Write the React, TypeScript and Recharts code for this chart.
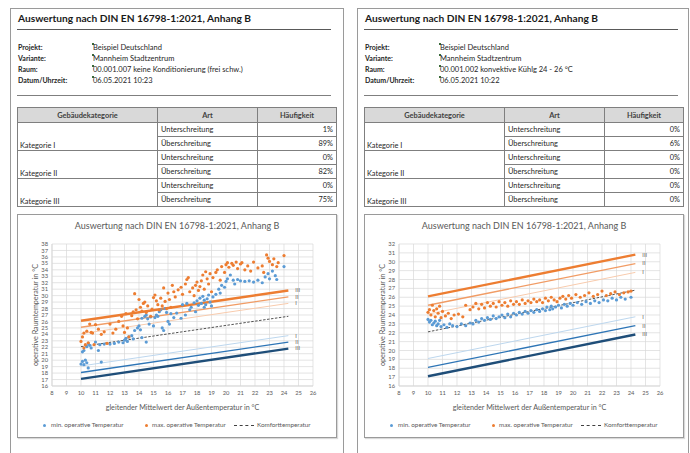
import React from "react";
import { ComposedChart, Scatter, Line, XAxis, YAxis, CartesianGrid } from "recharts";

type Pt = [number, number];

const reportTitle = "Auswertung nach DIN EN 16798-1:2021, Anhang B";
const chartTitle = "Auswertung nach DIN EN 16798-1:2021, Anhang B";
const infoLabels = ["Projekt:", "Variante:", "Raum:", "Datum/Uhrzeit:"];
const infoValuesA = ["Beispiel Deutschland", "Mannheim Stadtzentrum", "00.001.007 keine Konditionierung (frei schw.)", "06.05.2021 10:23"];
const infoValuesB = ["Beispiel Deutschland", "Mannheim Stadtzentrum", "00.001.002 konvektive Kühlg 24 - 26 °C", "06.05.2021 10:22"];
const tableHeaders = ["Gebäudekategorie", "Art", "Häufigkeit"];
const categoryNames = ["Kategorie I", "Kategorie II", "Kategorie III"];
const exceedKinds = ["Unterschreitung", "Überschreitung"];
const frequenciesA = ["1%", "89%", "0%", "82%", "0%", "75%"];
const frequenciesB = ["0%", "6%", "0%", "0%", "0%", "0%"];

const xTicks = [8, 9, 10, 11, 12, 13, 14, 15, 16, 17, 18, 19, 20, 21, 22, 23, 24, 25, 26];
const yTicksA = [16, 17, 18, 19, 20, 21, 22, 23, 24, 25, 26, 27, 28, 29, 30, 31, 32, 33, 34, 35, 36, 37, 38];
const yTicksB = [16, 17, 18, 19, 20, 21, 22, 23, 24, 25, 26, 27, 28, 29, 30, 31, 32];
const xTitle = "gleitender Mittelwert der Außentemperatur in °C";
const yTitle = "operative Raumtemperatur in °C";
const legendNames = ["min. operative Temperatur", "max. operative Temperatur", "Komforttemperatur"];

const limitX = [10, 24.3];
const upperIII = [26.1, 30.8];
const upperII = [25.1, 29.8];
const upperI = [24.1, 28.8];
const comfort = [22.1, 26.8];
const lowerI = [19.1, 23.8];
const lowerII = [18.1, 22.8];
const lowerIII = [17.1, 21.8];
const limitLabels = ["III", "II", "I", "I", "II", "III"];

const minA: Pt[] = [
  [10.0, 19.4], [10.1, 19.8], [10.2, 19.3], [10.3, 20.0], [10.5, 18.8], [10.4, 19.6], [10.1, 21.3], [10.2, 21.5],
  [10.4, 22.1], [10.6, 22.3], [10.7, 21.9], [10.5, 22.6], [11.0, 22.8], [11.2, 21.5], [11.4, 19.7], [11.3, 22.4],
  [11.6, 22.5], [12.0, 22.5], [12.3, 22.6], [12.6, 22.8], [12.9, 22.7], [13.0, 23.1], [13.1, 23.4], [13.2, 22.9],
  [13.3, 23.6], [13.5, 23.8], [13.6, 23.3], [13.7, 24.6], [13.9, 25.0], [14.0, 25.3], [14.1, 24.7], [14.2, 23.5],
  [14.5, 22.8], [14.2, 26.5], [14.4, 26.8], [14.5, 27.0], [14.6, 26.4], [14.8, 26.7], [14.7, 25.6], [15.0, 25.3],
  [15.1, 26.6], [15.2, 27.0], [15.3, 26.8], [15.4, 27.5], [15.5, 27.8], [15.6, 25.0], [15.7, 24.6], [15.8, 28.0],
  [15.9, 27.4], [16.0, 26.0], [16.1, 25.6], [16.2, 27.2], [16.4, 26.6], [16.6, 27.3], [16.9, 26.5], [17.0, 28.6],
  [17.2, 27.0], [17.3, 28.8], [17.5, 27.8], [17.6, 28.2], [17.8, 28.9], [17.9, 27.5], [18.0, 29.2], [18.1, 28.5],
  [18.2, 29.6], [18.3, 28.8], [18.4, 29.9], [18.5, 29.3], [18.5, 28.2], [18.6, 28.6], [18.7, 29.5], [18.8, 30.1],
  [18.9, 29.0], [19.0, 28.4], [19.1, 29.8], [19.3, 30.2], [19.5, 31.0], [19.6, 30.4], [19.7, 31.6], [19.9, 31.3],
  [20.0, 32.2], [20.1, 32.6], [20.3, 33.2], [20.5, 32.4], [20.6, 31.8], [20.8, 32.5], [21.0, 32.3], [21.3, 32.2],
  [21.6, 32.3], [21.9, 32.1], [22.2, 32.4], [22.5, 32.0], [22.7, 32.9], [22.9, 33.4], [23.0, 32.6], [23.2, 33.8],
  [23.4, 33.1], [23.5, 32.5], [24.0, 34.5],
];

const maxA: Pt[] = [
  [10.0, 22.9], [10.1, 23.6], [10.2, 24.2], [10.3, 22.4], [10.2, 21.9], [10.4, 24.5], [10.5, 22.7], [10.6, 25.6],
  [10.7, 24.3], [10.8, 24.2], [10.9, 22.4], [11.0, 25.5], [11.2, 24.8], [11.4, 24.0], [11.6, 24.4], [11.8, 22.6],
  [12.0, 25.6], [12.2, 24.2], [12.4, 24.8], [12.6, 26.0], [12.8, 26.8], [12.9, 25.3], [13.0, 24.3], [13.1, 27.2],
  [13.2, 25.0], [13.3, 23.6], [13.5, 26.9], [13.6, 27.5], [13.7, 30.3], [13.8, 27.8], [13.9, 26.4], [14.0, 29.4],
  [14.1, 28.2], [14.2, 27.6], [14.3, 28.8], [14.4, 29.0], [14.5, 27.4], [14.6, 28.4], [14.8, 26.8], [14.9, 27.9],
  [15.0, 29.7], [15.1, 30.1], [15.2, 29.2], [15.3, 28.6], [15.4, 27.8], [15.5, 29.6], [15.6, 28.4], [15.7, 31.2],
  [15.8, 29.1], [15.9, 28.0], [16.0, 30.4], [16.1, 29.4], [16.2, 28.2], [16.3, 31.6], [16.4, 30.6], [16.5, 29.8],
  [16.7, 30.9], [16.9, 31.3], [17.0, 30.2], [17.2, 31.8], [17.3, 32.5], [17.4, 32.8], [17.5, 30.6], [17.7, 31.2],
  [17.8, 30.0], [17.9, 31.6], [18.0, 32.1], [18.1, 30.8], [18.2, 31.4], [18.3, 32.3], [18.4, 33.2], [18.5, 31.0],
  [18.6, 33.7], [18.7, 32.6], [18.8, 31.8], [18.9, 33.4], [19.0, 30.6], [19.1, 32.8], [19.3, 33.6], [19.4, 34.0],
  [19.6, 32.4], [19.7, 34.5], [19.9, 33.6], [20.0, 34.8], [20.1, 35.1], [20.2, 34.4], [20.4, 35.0], [20.5, 34.7],
  [20.7, 35.2], [20.8, 34.2], [21.0, 34.9], [21.1, 35.1], [21.3, 34.0], [21.5, 34.6], [21.7, 33.8], [21.9, 35.2],
  [22.2, 34.3], [22.5, 34.6], [22.6, 33.6], [22.8, 36.3], [22.9, 35.8], [23.0, 35.3], [23.2, 34.8], [23.3, 35.7],
  [23.5, 34.5], [23.6, 35.1], [24.0, 36.2],
];

const minB: Pt[] = [
  [10.0, 23.5], [10.1, 23.2], [10.2, 23.4], [10.3, 22.9], [10.4, 23.1], [10.5, 23.3], [10.6, 22.8], [10.7, 23.0],
  [10.8, 23.4], [10.9, 22.7], [11.1, 22.9], [11.3, 22.6], [11.5, 23.0], [11.7, 22.8], [12.0, 22.7], [12.3, 23.0],
  [12.6, 22.8], [12.9, 23.1], [13.1, 23.0], [13.3, 23.4], [13.5, 23.2], [13.7, 23.6], [13.9, 23.4], [14.1, 23.7],
  [14.3, 23.5], [14.5, 23.9], [14.7, 23.6], [14.9, 23.8], [15.1, 24.0], [15.3, 23.7], [15.5, 24.1], [15.7, 23.8],
  [15.9, 24.2], [16.1, 24.0], [16.3, 24.3], [16.5, 24.1], [16.7, 24.4], [16.9, 24.2], [17.1, 24.5], [17.3, 24.3],
  [17.5, 24.6], [17.7, 24.4], [17.9, 24.7], [18.1, 24.5], [18.2, 24.9], [18.4, 24.6], [18.5, 25.0], [18.6, 24.7],
  [18.8, 24.9], [19.0, 25.1], [19.2, 24.8], [19.4, 25.2], [19.6, 25.0], [19.8, 25.3], [20.0, 25.1], [20.3, 25.4],
  [20.6, 25.2], [20.9, 25.5], [21.2, 25.3], [21.5, 25.6], [21.8, 25.4], [22.1, 25.7], [22.4, 25.6], [22.7, 25.9],
  [23.0, 25.7], [23.3, 26.0], [23.6, 25.8], [24.0, 26.0],
];

const maxB: Pt[] = [
  [10.0, 24.3], [10.1, 24.6], [10.2, 24.0], [10.3, 25.1], [10.4, 24.5], [10.5, 23.8], [10.6, 24.7], [10.7, 24.2],
  [10.8, 25.0], [10.9, 23.7], [11.0, 24.4], [11.2, 23.9], [11.4, 24.2], [11.6, 23.6], [11.8, 24.0], [12.1, 24.1],
  [12.4, 23.8], [12.6, 25.1], [12.9, 24.6], [13.1, 24.9], [13.3, 25.3], [13.5, 24.7], [13.7, 25.2], [13.9, 24.8],
  [14.1, 25.4], [14.3, 25.0], [14.5, 25.3], [14.7, 24.9], [14.9, 25.5], [15.1, 25.1], [15.3, 25.4], [15.5, 25.0],
  [15.7, 25.6], [15.9, 25.2], [16.1, 25.5], [16.3, 25.2], [16.5, 25.7], [16.7, 25.3], [16.9, 25.6], [17.1, 25.4],
  [17.3, 25.8], [17.5, 25.5], [17.7, 25.7], [17.9, 25.4], [18.1, 25.9], [18.3, 25.6], [18.5, 26.0], [18.7, 25.7],
  [18.9, 25.5], [19.1, 25.9], [19.3, 26.1], [19.5, 25.8], [19.7, 26.2], [19.9, 25.9], [20.2, 26.3], [20.5, 26.0],
  [20.8, 26.2], [21.1, 26.5], [21.4, 26.1], [21.7, 26.3], [22.0, 26.7], [22.3, 26.2], [22.6, 26.4], [22.9, 26.6],
  [23.2, 26.3], [23.5, 26.5], [23.8, 26.6], [24.0, 26.7],
];

const FONT = "Lato, 'Liberation Sans', Arial, sans-serif";
const BLUE = "#5B9BD5";
const ORANGE = "#ED7D31";
const TXT = "#595959";

const toXY = (pts: Pt[]) => pts.map(([x, y]) => ({ x, y }));
const lineData = (vals: number[]) => limitX.map((x, i) => ({ x, y: vals[i] }));

const limitLines = [
  { vals: upperIII, color: "#ED7D31", w: 2.4, label: limitLabels[0] },
  { vals: upperII, color: "#F19C65", w: 1.3, label: limitLabels[1] },
  { vals: upperI, color: "#F8CBAD", w: 1, label: limitLabels[2] },
  { vals: lowerI, color: "#BDD7EE", w: 1, label: limitLabels[3] },
  { vals: lowerII, color: "#2E75B6", w: 1.4, label: limitLabels[4] },
  { vals: lowerIII, color: "#1F4E79", w: 2.4, label: limitLabels[5] },
];

const endLabel = (text: string) => (props: any) => {
  if (props.index !== 1) return null;
  return (
    <text x={props.x + 7} y={props.y} dy="0.35em" fontSize={5.5} fill={TXT} fontFamily={FONT}>
      {text}
    </text>
  );
};

const dotShape = (color: string) => (props: any) => (
  <circle cx={props.cx} cy={props.cy} r={1.6} fill={color} />
);

function AdaptiveChart({ minPts, maxPts, yTicks }: { minPts: Pt[]; maxPts: Pt[]; yTicks: number[] }) {
  const tickStyle = { fontSize: 5.8, fill: TXT, fontFamily: FONT };
  return (
    <ComposedChart width={318} height={222} margin={{ top: 29, right: 23, bottom: 21, left: 0 }}>
      <CartesianGrid stroke="#d9d9d9" strokeWidth={0.7} />
      <XAxis
        type="number"
        dataKey="x"
        domain={[8, 26]}
        ticks={xTicks}
        interval={0}
        allowDataOverflow
        tickLine={false}
        tickSize={0}
        tickMargin={5}
        height={30}
        axisLine={{ stroke: "#d9d9d9" }}
        tick={tickStyle}
        label={{
          content: (p: any) => {
            const vb = p.viewBox || { x: 34, y: 171, width: 261, height: 30 };
            return (
              <text x={vb.x + vb.width / 2} y={vb.y + 21} dy="0.35em" textAnchor="middle" fontSize={7.2} fill={TXT} fontFamily={FONT}>
                {xTitle}
              </text>
            );
          },
        }}
      />
      <YAxis
        type="number"
        dataKey="y"
        domain={[yTicks[0], yTicks[yTicks.length - 1]]}
        ticks={yTicks}
        interval={0}
        allowDataOverflow
        width={34}
        tickLine={false}
        tickSize={0}
        tickMargin={4}
        axisLine={{ stroke: "#d9d9d9" }}
        tick={tickStyle}
        label={{
          content: (p: any) => {
            const vb = p.viewBox || { x: 0, y: 29, width: 34, height: 142 };
            const cx = vb.x + 17;
            const cy = vb.y + vb.height / 2;
            return (
              <text x={cx} y={cy} dy="0.35em" textAnchor="middle" fontSize={7.2} fill={TXT} fontFamily={FONT} transform={`rotate(-90 ${cx} ${cy})`}>
                {yTitle}
              </text>
            );
          },
        }}
      />
      {limitLines.map((l, i) => (
        <Line
          key={"l" + i}
          data={lineData(l.vals)}
          dataKey="y"
          stroke={l.color}
          strokeWidth={l.w}
          dot={false}
          isAnimationActive={false}
          label={endLabel(l.label)}
        />
      ))}
      <Line
        data={lineData(comfort)}
        dataKey="y"
        stroke="#404040"
        strokeWidth={0.9}
        strokeDasharray="2.5 1.5"
        dot={false}
        isAnimationActive={false}
      />
      <Scatter data={toXY(minPts)} fill={BLUE} shape={dotShape(BLUE)} isAnimationActive={false} />
      <Scatter data={toXY(maxPts)} fill={ORANGE} shape={dotShape(ORANGE)} isAnimationActive={false} />
    </ComposedChart>
  );
}

function ChartBox({ minPts, maxPts, yTicks }: { minPts: Pt[]; maxPts: Pt[]; yTicks: number[] }) {
  const legendText = { position: "absolute" as const, top: 206, fontSize: 6.3, lineHeight: "8px", color: TXT, whiteSpace: "nowrap" as const };
  return (
    <div
      style={{
        position: "absolute",
        left: 6,
        top: 205,
        width: 320,
        height: 224,
        border: "1px solid #9a9a9a",
        boxSizing: "border-box",
        boxShadow: "1px 1px 1px rgba(0,0,0,0.15)",
        background: "#fff",
      }}
    >
      <div style={{ position: "absolute", left: 0, top: 5, width: 318, textAlign: "center", fontSize: 9, lineHeight: "12px", color: TXT, whiteSpace: "nowrap" }}>
        {chartTitle}
      </div>
      <div style={{ position: "absolute", left: 0, top: 0 }}>
        <AdaptiveChart minPts={minPts} maxPts={maxPts} yTicks={yTicks} />
      </div>
      <div style={{ position: "absolute", left: 25, top: 208.5, width: 3, height: 3, borderRadius: 2, background: BLUE }} />
      <div style={{ ...legendText, left: 33 }}>{legendNames[0]}</div>
      <div style={{ position: "absolute", left: 127, top: 208.5, width: 3, height: 3, borderRadius: 2, background: ORANGE }} />
      <div style={{ ...legendText, left: 134 }}>{legendNames[1]}</div>
      <div style={{ position: "absolute", left: 216, top: 209.5, width: 20, height: 0, borderTop: "1px dashed #404040" }} />
      <div style={{ ...legendText, left: 239 }}>{legendNames[2]}</div>
    </div>
  );
}

function ReportPage({ left, width, info, freqs, minPts, maxPts, yTicks }: any) {
  const cell = { border: "1px solid #7f7f7f", padding: "0 3px", height: 13, overflow: "hidden", whiteSpace: "nowrap" as const };
  return (
    <div
      style={{
        position: "absolute",
        left,
        top: 8,
        width,
        height: 460,
        border: "1px solid #9a9a9a",
        boxSizing: "border-box",
        background: "#fff",
        fontFamily: FONT,
        color: "#262626",
      }}
    >
      <div style={{ position: "absolute", left: 7, top: 2, fontSize: 10.2, fontWeight: 700, lineHeight: "14px", whiteSpace: "nowrap", color: "#1a1a1a" }}>
        {reportTitle}
      </div>
      <div style={{ position: "absolute", left: 6, top: 20, width: 314, height: 0, borderTop: "1.5px solid #595959" }} />
      {infoLabels.map((lab, i) => (
        <React.Fragment key={lab}>
          <div style={{ position: "absolute", left: 7, top: 32.5 + i * 11, fontSize: 7, fontWeight: 700, lineHeight: "11px", whiteSpace: "nowrap" }}>{lab}</div>
          <div style={{ position: "absolute", left: 81, top: 34 + i * 11, width: 1.5, height: 1.5, background: "#3a6a3a" }} />
          <div style={{ position: "absolute", left: 82, top: 32.5 + i * 11, fontSize: 7.5, lineHeight: "11px", whiteSpace: "nowrap" }}>{info[i]}</div>
        </React.Fragment>
      ))}
      <div style={{ position: "absolute", left: 6, top: 86, width: 314, height: 0, borderTop: "1px solid #7f7f7f" }} />
      <table
        style={{
          position: "absolute",
          left: 6,
          top: 98,
          width: 319,
          borderCollapse: "collapse",
          tableLayout: "fixed",
          fontSize: 7.4,
          border: "1px solid #404040",
        }}
      >
        <colgroup>
          <col style={{ width: 140 }} />
          <col style={{ width: 100 }} />
          <col style={{ width: 79 }} />
        </colgroup>
        <thead>
          <tr style={{ background: "#d9d9d9" }}>
            {tableHeaders.map((h) => (
              <th key={h} style={{ ...cell, height: 14, textAlign: "center", fontWeight: 700, color: "#404040" }}>{h}</th>
            ))}
          </tr>
        </thead>
        <tbody>
          {categoryNames.map((cat, ci) =>
            exceedKinds.map((kind, ki) => (
              <tr key={cat + kind}>
                {ki === 0 && (
                  <td rowSpan={2} style={{ ...cell, verticalAlign: "bottom", textAlign: "left", paddingLeft: 2, paddingBottom: 0 }}>{cat}</td>
                )}
                <td style={{ ...cell, textAlign: "left" }}>{kind}</td>
                <td style={{ ...cell, textAlign: "right" }}>{freqs[ci * 2 + ki]}</td>
              </tr>
            ))
          )}
        </tbody>
      </table>
      <ChartBox minPts={minPts} maxPts={maxPts} yTicks={yTicks} />
    </div>
  );
}

export default function App() {
  return (
    <div style={{ position: "absolute", left: 0, top: 0, width: 690, height: 453, overflow: "hidden", background: "#fff" }}>
      <ReportPage left={10} width={334} info={infoValuesA} freqs={frequenciesA} minPts={minA} maxPts={maxA} yTicks={yTicksA} />
      <ReportPage left={357} width={332} info={infoValuesB} freqs={frequenciesB} minPts={minB} maxPts={maxB} yTicks={yTicksB} />
    </div>
  );
}
